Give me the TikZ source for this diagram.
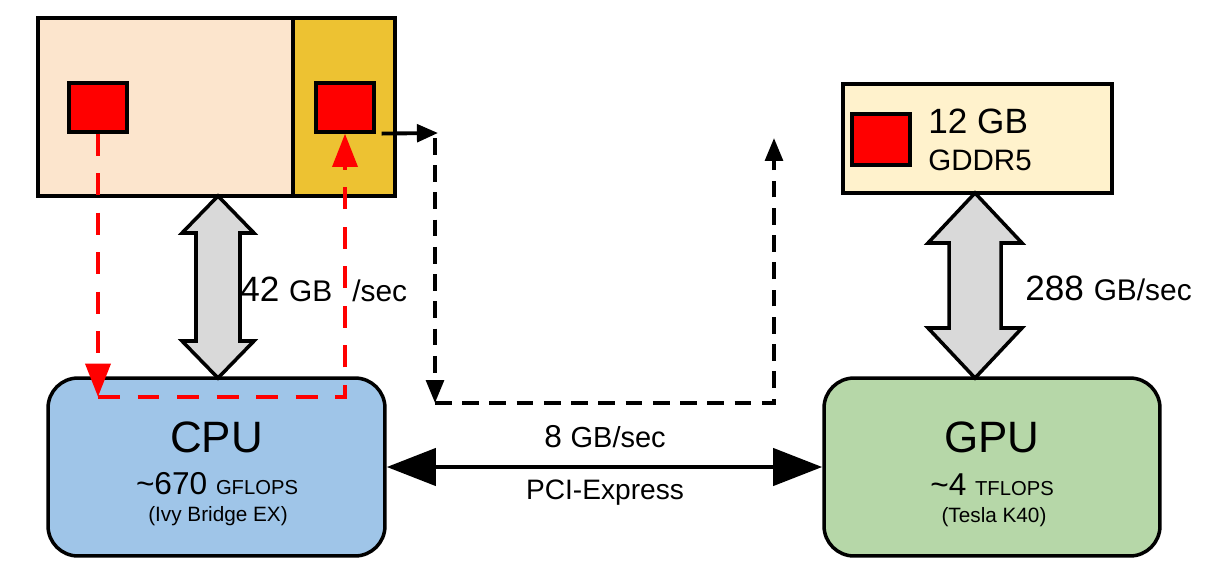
\documentclass[tikz,border=0pt]{standalone}
\usepackage{fontspec}
\setmainfont{Liberation Sans}
\usetikzlibrary{arrows.meta}

\definecolor{hostpeach}{HTML}{FCE5CD}
\definecolor{pinnedgold}{HTML}{EDC232}
\definecolor{cpublue}{HTML}{9FC5E8}
\definecolor{gpugreen}{HTML}{B6D7A8}
\definecolor{gddrcream}{HTML}{FFF2CC}
\definecolor{busgray}{HTML}{D9D9D9}
\definecolor{pagered}{HTML}{FF0000}

\newcommand\sizechip{\fontsize{25}{30}\selectfont}
\newcommand\sizerate{\fontsize{20}{24}\selectfont}
\newcommand\sizeunit{\fontsize{17}{20}\selectfont}

\tikzset{
  membox/.style={draw, line width=2pt, inner sep=0pt, minimum height=3.56cm},
  page/.style={draw, line width=1.8pt, fill=pagered, inner sep=0pt,
    minimum width=1.16cm, minimum height=0.98cm},
  chip/.style={draw, line width=2pt, rounded corners=0.6cm,
    minimum width=6.74cm, minimum height=3.56cm},
  bus/.style={draw, line width=2pt, fill=busgray, line join=miter},
  txt/.style={inner sep=0pt},
  redflow/.style={draw=pagered, line width=2.8pt, dash pattern=on 12.5pt off 10pt,
    -{Triangle[width=14pt,length=19pt]}},
  copyflow/.style={line width=2.2pt, dash pattern=on 9.5pt off 6pt,
    -{Triangle[width=10pt,length=13pt]}},
}

\begin{document}
\begin{tikzpicture}[x=0.02cm, y=-0.02cm]
  \useasboundingbox (0,0) rectangle (1230,571);

  % host memory: pageable and pinned parts
  \node[membox, fill=hostpeach, minimum width=5.1cm] (hostmem) at (165.5,107) {};
  \node[membox, fill=pinnedgold, minimum width=2.04cm] (pinned) at (344,107) {};
  \node[page] (pagesrc) at (98,107.5) {};
  \node[page] (pagepin) at (345,107.5) {};

  % device memory
  \node[membox, fill=gddrcream, minimum width=5.38cm, minimum height=2.18cm] (gddr) at (977.5,138.5) {};
  \node[page, minimum height=1.02cm] (gpupage) at (881,139.5) {};
  \node[txt, anchor=base west] (gddrsize) at (928,133) {\sizerate 12 GB};
  \node[txt, anchor=base west] (gddrtype) at (928,170) {\fontsize{16.8}{20}\selectfont GDDR5};

  % processors
  \node[chip, fill=cpublue] (cpu) at (216.5,467) {};
  \node[chip, fill=gpugreen, minimum width=6.72cm] (gpu) at (992,467) {};
  \node[txt, anchor=base] (cpuname) at (216.5,452) {\sizechip CPU};
  \node[txt, anchor=base] (cpuflops) at (217,494) {\fontsize{18}{22}\selectfont\textasciitilde670 \fontsize{11.5}{14}\selectfont GFLOPS};
  \node[txt, anchor=base] (cpumodel) at (218,521) {\fontsize{11.8}{14}\selectfont (Ivy Bridge EX)};
  \node[txt, anchor=base] (gpuname) at (992,452) {\sizechip GPU};
  \node[txt, anchor=base] (gpuflops) at (992,495) {\fontsize{18}{22}\selectfont\textasciitilde4 \fontsize{11.5}{14}\selectfont TFLOPS};
  \node[txt, anchor=base] (gpumodel) at (994,522) {\fontsize{11.8}{14}\selectfont (Tesla K40)};

  % memory buses
  \draw[bus] (218,196) -- (254,233) -- (240,233) -- (240,341) -- (254,341) -- (218,378)
    -- (182,341) -- (196,341) -- (196,233) -- (182,233) -- cycle;
  \draw[bus] (975,193) -- (1022,243) -- (1001,243) -- (1001,328) -- (1022,328) -- (975,378)
    -- (928,328) -- (949,328) -- (949,243) -- (928,243) -- cycle;
  \node[txt, anchor=base west] (hostbw) at (240,301) {\sizerate 42 \sizeunit GB};
  \node[txt, anchor=base west] (hostbwunit) at (352,301) {\sizeunit /sec};
  \node[txt, anchor=base west] (gpubw) at (1025,300) {\sizerate 288 \sizeunit GB/sec};

  % staging through pinned memory
  \coordinate (redl) at (98,397);
  \coordinate (redr) at (345,397);
  \draw[redflow] (pagesrc.south) -- (redl);
  \draw[redflow] (redl) -- (redr) -- (pagepin.south);

  % copy over the bus
  \coordinate (hop0) at ([xshift=0.12cm]pagepin.south east);
  \coordinate (hop1) at (438,133);
  \coordinate (hopa) at (435,138);
  \coordinate (hopb) at (435,403);
  \coordinate (hopc) at (774,403);
  \coordinate (hopd) at (774,138);
  \draw[line width=2.2pt, -{Triangle[width=10pt,length=12pt]}] (hop0) -- (hop1);
  \draw[copyflow] (hopa) -- (hopb);
  \draw[copyflow] (hopb) -- (hopc) -- (hopd);

  % PCI-Express link
  \draw[line width=2.8pt, {Triangle[width=21pt,length=28pt]}-{Triangle[width=21pt,length=28pt]}]
    (cpu.east) -- (gpu.west);
  \node[txt, anchor=base] (pcierate) at (605,447) {\fontsize{18}{22}\selectfont 8 \fontsize{16.5}{20}\selectfont GB/sec};
  \node[txt, anchor=base] (pciename) at (605,499) {\fontsize{16}{20}\selectfont PCI-Express};
\end{tikzpicture}
\end{document}
